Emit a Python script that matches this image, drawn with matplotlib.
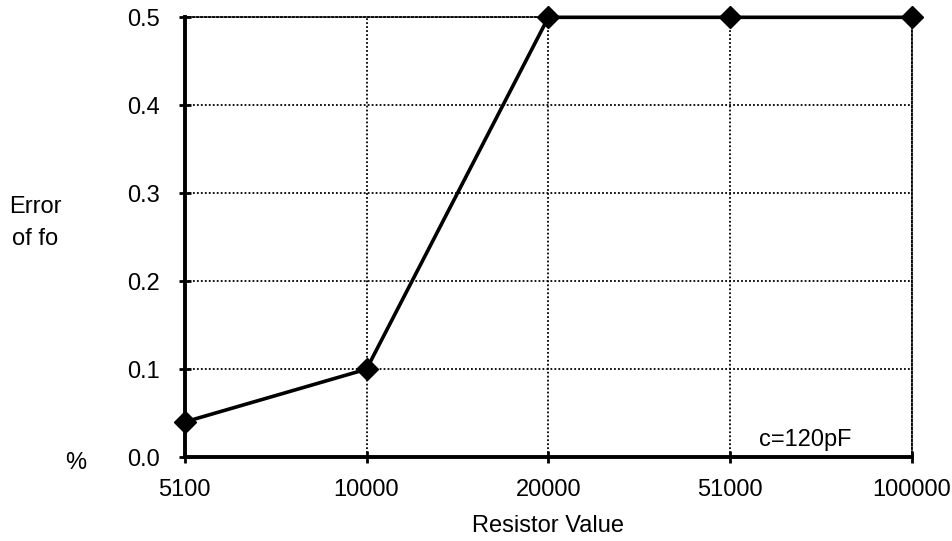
import matplotlib
matplotlib.use("Agg")
import matplotlib.pyplot as plt

# values
resistors = ["5100", "10000", "20000", "51000", "100000"]
error_pct = [0.04, 0.1, 0.5, 0.5, 0.5]
y_ticks = [0.0, 0.1, 0.2, 0.3, 0.4, 0.5]

plt.rcParams["font.family"] = ["Liberation Sans", "DejaVu Sans"]
FS = 17
DOTS = (0, (1, 1.2))

fig = plt.figure(figsize=(9.52, 5.41), dpi=100)
ax = fig.add_axes([0.194, 0.155, 0.764, 0.813])

x = list(range(len(resistors)))
ax.plot(x, error_pct, color="black", linewidth=2.6, marker="D",
        markersize=11, markerfacecolor="black", markeredgecolor="black",
        clip_on=False, zorder=5)

ax.set_xlim(0, len(resistors) - 1)
ax.set_ylim(0, 0.5)
ax.set_xticks(x)
ax.set_xticklabels(resistors)
ax.set_yticks(y_ticks)
ax.set_yticklabels([f"{v:.1f}" for v in y_ticks])

ax.grid(True, color="black", linestyle=DOTS, linewidth=1.3)
ax.set_axisbelow(True)

for side in ["top", "right"]:
    ax.spines[side].set_linestyle(DOTS)
    ax.spines[side].set_linewidth(1.3)
for side in ["left", "bottom"]:
    ax.spines[side].set_linewidth(2.8)

ax.tick_params(axis="both", direction="inout", length=8, width=2,
               labelsize=FS)
ax.tick_params(axis="x", pad=12)
ax.tick_params(axis="y", pad=14)

ax.set_xlabel("Resistor Value", fontsize=FS, labelpad=10)
fig.text(0.037, 0.588, "Error\nof fo", fontsize=FS, ha="center", va="center",
         multialignment="center", linespacing=1.6)
fig.text(0.079, 0.145, "%", fontsize=FS, ha="center", va="center")
ax.text(3.16, 0.02, "c=120pF", fontsize=FS, ha="left", va="center")

plt.savefig("out.png", dpi=100)
plt.close()
